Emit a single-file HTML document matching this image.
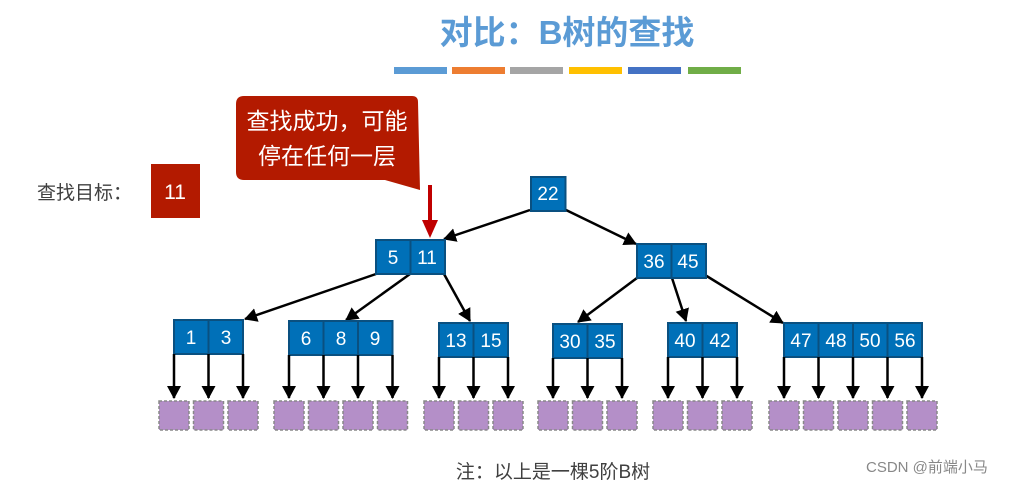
<!DOCTYPE html>
<html><head><meta charset="utf-8"><style>
body{margin:0;background:#fff;width:1034px;height:486px;overflow:hidden}
svg{display:block}
text{font-family:"Liberation Sans","Noto Sans CJK SC",sans-serif}
</style></head><body>
<svg id="s" width="1034" height="486" viewBox="0 0 1034 486" xmlns="http://www.w3.org/2000/svg">
<defs>
<marker id="a2" markerWidth="14" markerHeight="14" refX="12" refY="7" orient="auto" markerUnits="userSpaceOnUse"><path d="M0,0 L13,7 L0,14 z" fill="#000"/></marker></defs>
<text x="567" y="44" text-anchor="middle" font-size="33" font-weight="bold" fill="#5b9bd5">对比：B树的查找</text>
<g>
<rect x="394" y="67" width="53" height="7" fill="#5b9bd5"/>
<rect x="452" y="67" width="53" height="7" fill="#ed7d31"/>
<rect x="510" y="67" width="53" height="7" fill="#a5a5a5"/>
<rect x="569" y="67" width="53" height="7" fill="#ffc000"/>
<rect x="628" y="67" width="53" height="7" fill="#4472c4"/>
<rect x="688" y="67" width="53" height="7" fill="#70ad47"/>
</g>
<path d="M244,96 H412 Q418,96 418,102 L420,190 L385,180 H244 Q236,180 236,172 V104 Q236,96 244,96 Z" fill="#b31a00"/>
<text x="327" y="129" text-anchor="middle" font-size="23" fill="#fff">查找成功，可能</text>
<text x="327" y="164" text-anchor="middle" font-size="23" fill="#fff">停在任何一层</text>
<line x1="430" y1="185" x2="430" y2="222" stroke="#c00000" stroke-width="4"/>
<path d="M422,220 L438,220 L430,238 Z" fill="#c00000"/>
<text x="37" y="199" font-size="19" fill="#404040">查找目标：</text>
<rect x="151" y="164" width="49" height="54" fill="#b31a00"/>
<text x="175" y="199" text-anchor="middle" font-size="21" fill="#fff">11</text>
<g stroke="#000" stroke-width="2.5">
<line x1="530" y1="210" x2="444" y2="239" marker-end="url(#a2)"/>
<line x1="566" y1="210" x2="636" y2="244" marker-end="url(#a2)"/>
<line x1="376" y1="274" x2="245" y2="319" marker-end="url(#a2)"/>
<line x1="410" y1="274" x2="346" y2="320" marker-end="url(#a2)"/>
<line x1="444" y1="274" x2="470" y2="321" marker-end="url(#a2)"/>
<line x1="637" y1="278" x2="578" y2="322" marker-end="url(#a2)"/>
<line x1="672" y1="278" x2="686" y2="321" marker-end="url(#a2)"/>
<line x1="705" y1="275" x2="783" y2="323" marker-end="url(#a2)"/>
</g>
<g id="nodes" fill="#0070b8" stroke="#0a5080" stroke-width="2"></g>
<g id="sq"></g>
<g font-size="19" fill="#fff" text-anchor="middle">
<text x="548" y="200">22</text>
<text x="393" y="264">5</text><text x="427" y="264">11</text>
<text x="654" y="268">36</text><text x="688" y="268">45</text>
<text x="191" y="344">1</text><text x="226" y="344">3</text>
<text x="306" y="345">6</text><text x="341" y="345">8</text><text x="375" y="345">9</text>
<text x="456" y="347">13</text><text x="491" y="347">15</text>
<text x="570" y="348">30</text><text x="605" y="348">35</text>
<text x="685" y="347">40</text><text x="720" y="347">42</text>
<text x="801" y="347">47</text><text x="836" y="347">48</text><text x="870" y="347">50</text><text x="905" y="347">56</text>
</g>
<text x="553" y="478" text-anchor="middle" font-size="19" fill="#404040">注：以上是一棵5阶B树</text>
<text x="866" y="472" font-size="15" fill="#888">CSDN @前端小马</text>
</svg>
<script>
var ns="http://www.w3.org/2000/svg",N=document.getElementById('nodes'),S=document.getElementById('sq');
function el(t,a,p){var e=document.createElementNS(ns,t);for(var k in a)e.setAttribute(k,a[k]);p.appendChild(e);return e;}
function node(x,y,n){for(var i=0;i<n;i++)el('rect',{x:x+i*34.5,y:y,width:34.5,height:34},N);}
node(531,177,1);node(376,240,2);node(637,244,2);
var L=[[174,320,2],[289,321,3],[439,323,2],[553,324,2],[668,323,2],[784,323,4]];
L.forEach(function(l){node(l[0],l[1],l[2]);for(var i=0;i<=l[2];i++){var x=l[0]+i*34.5;
el('line',{x1:x,y1:l[1]+34,x2:x,y2:398,stroke:'#000','stroke-width':2.5,'marker-end':'url(#a2)'},S);
el('rect',{x:x-15,y:401,width:30,height:29,fill:'#b48fc8',stroke:'#888','stroke-width':1.5,'stroke-dasharray':'3,2'},S);}});
</script>
</body></html>
